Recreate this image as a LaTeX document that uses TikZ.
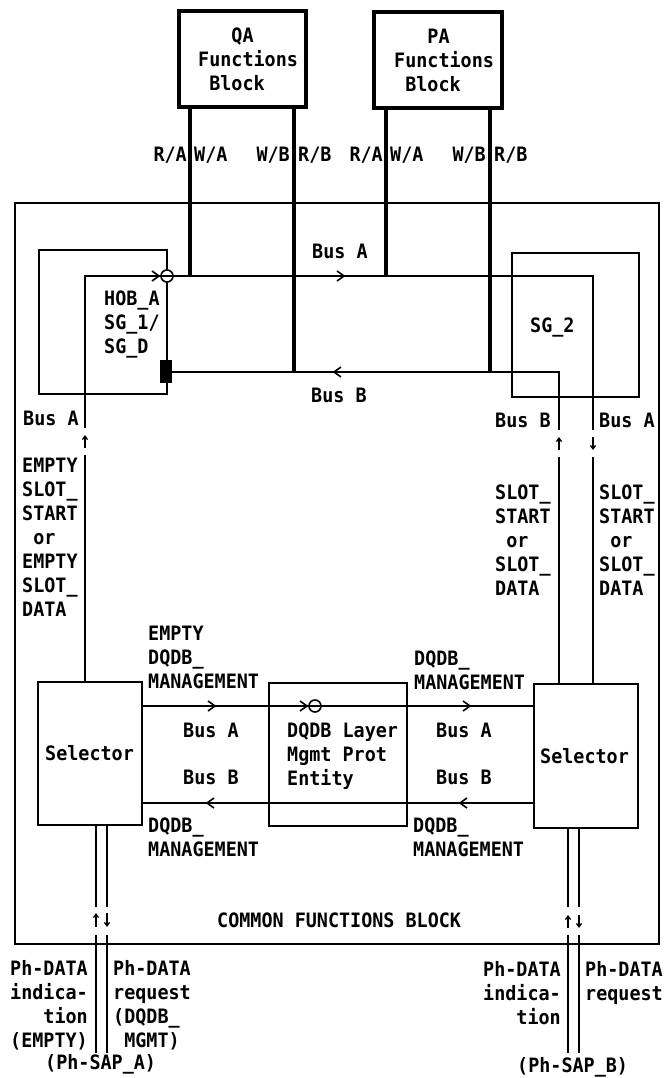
\documentclass[tikz,border=0pt]{standalone}
\usepackage{fontspec}
\newfontfamily\monofont[FakeStretch=0.93]{DejaVu Sans Mono}
\usetikzlibrary{arrows.meta}
\begin{document}
\begin{tikzpicture}[x=1pt,y=-1pt,
  txt/.style={font=\monofont\bfseries\fontsize{19.8}{24}\selectfont, inner sep=0pt},
  btxt/.style={font=\monofont\bfseries\fontsize{19.8}{24}\selectfont, inner sep=0pt},
  fblock/.style={draw, line width=3.2pt, inner sep=0pt},
  frame/.style={draw, line width=2.8pt, inner sep=0pt},
  box/.style={draw, line width=1.5pt, inner sep=0pt},
  bus/.style={line width=1.5pt},
  tbus/.style={line width=4pt},
  chev/.style={line width=1.6pt},
  theta/.style={circle, draw, fill=white, line width=1.6pt, minimum size=12pt, inner sep=0pt},
  varr/.style={line width=1.3pt, -{Straight Barb[length=3.5pt,width=5pt]}},
  chevR/.pic={\draw[chev] (-7,-5) -- (0,0) -- (-7,5);},
  chevL/.pic={\draw[chev] (7,-5) -- (0,0) -- (7,5);},
]
\useasboundingbox (0,0) rectangle (664,1078);

% blocks
\node[fblock, minimum width=127pt, minimum height=96pt] (qa) at (242.5,59) {};
\node[fblock, minimum width=128pt, minimum height=96pt] (pa) at (438,60) {};
\node[frame, minimum width=644pt, minimum height=741pt] (cfb) at (337,573.5) {};
\node[box, minimum width=128pt, minimum height=144pt] (hob) at (103,322) {};
\node[box, minimum width=127pt, minimum height=144pt] (sg2) at (575.5,325) {};
\node[box, minimum width=104pt, minimum height=143pt] (selL) at (90,753.5) {};
\node[box, minimum width=104pt, minimum height=144pt] (selR) at (586,756) {};
\node[box, minimum width=138pt, minimum height=143pt] (lme) at (338,754.5) {};

% coordinates
\coordinate (aLtop) at (85,276);
\coordinate (aRtop) at (593,276);
\coordinate (bRtop) at (559,372);
\coordinate (q1) at (190,276);
\coordinate (q2) at (294,372);
\coordinate (p1) at (386,276);
\coordinate (p2) at (490,372);
\coordinate (mA) at (0,706);
\coordinate (mB) at (0,803);
\coordinate (dL1) at (96,907);
\coordinate (dL2) at (107,907);
\coordinate (dR1) at (568,907);
\coordinate (dR2) at (579,907);

% black block on HOB
\node[fill=black, minimum width=12pt, minimum height=23pt, inner sep=0pt] (blk) at (166,371.5) {};

% upper Bus A
\draw[bus] (selL.north -| aLtop) -- (85,455);
\draw[bus] (85,428) -- (aLtop) -- (161,276);
\draw[bus] (173,276) -- (aRtop) -- (593,430);
\draw[bus] (593,457) -- (selR.north -| aRtop);
% upper Bus B
\draw[bus] (selR.north -| bRtop) -- (559,457);
\draw[bus] (559,430) -- (bRtop) -- (blk.east |- bRtop);

% thick lines
\draw[tbus] (qa.south -| q1) -- (q1);
\draw[tbus] (qa.south -| q2) -- (q2);
\draw[tbus] (pa.south -| p1) -- (p1);
\draw[tbus] (pa.south -| p2) -- (p2);

% theta on HOB
\node[theta] (th1) at (167,276) {};
\draw[line width=1.6pt] (th1.west) -- (th1.east);
\pic at (159,276) {chevR};
\pic at (344,276) {chevR};
\pic at (334,372) {chevL};

% middle buses
\draw[bus] (selL.east |- mA) -- (selR.west |- mA);
\draw[bus] (selR.west |- mB) -- (selL.east |- mB);
\node[theta] (th2) at (315,706) {};
\draw[line width=1.6pt] (th2.west) -- (th2.east);
\pic at (215,706) {chevR};
\pic at (307,706) {chevR};
\pic at (470,706) {chevR};
\pic at (207,803) {chevL};
\pic at (460,803) {chevL};

% bottom lines
\draw[bus] (selL.south -| dL1) -- (dL1);
\draw[bus] (96,935) -- (96,1053);
\draw[bus] (selL.south -| dL2) -- (dL2);
\draw[bus] (107,935) -- (107,1053);
\draw[bus] (selR.south -| dR1) -- (dR1);
\draw[bus] (568,935) -- (568,1053);
\draw[bus] (selR.south -| dR2) -- (dR2);
\draw[bus] (579,935) -- (579,1053);

% small arrows
\draw[varr] (85,448) -- (85,435);
\draw[varr] (559,450) -- (559,437);
\draw[varr] (593,437) -- (593,450);
\draw[varr] (96,927) -- (96,913);
\draw[varr] (107,913) -- (107,927);
\draw[varr] (568,928) -- (568,915);
\draw[varr] (579,915) -- (579,928);

% texts
\node[txt, anchor=north west, align=left] (qat) at (198,28) {\hphantom{xxx}QA\\Functions\\\hphantom{x}Block};
\node[txt, anchor=north west, align=left] (pat) at (394,29) {\hphantom{xxx}PA\\Functions\\\hphantom{x}Block};

\node[btxt, anchor=base east] (ra1) at (187,162) {R/A};
\node[btxt, anchor=base west] (wa1) at (194,162) {W/A};
\node[btxt, anchor=base east] (wb1) at (290,162) {W/B};
\node[btxt, anchor=base west] (rb1) at (298,162) {R/B};
\node[btxt, anchor=base east] (ra2) at (383,162) {R/A};
\node[btxt, anchor=base west] (wa2) at (390,162) {W/A};
\node[btxt, anchor=base east] (wb2) at (486,162) {W/B};
\node[btxt, anchor=base west] (rb2) at (494,162) {R/B};

\node[btxt, anchor=base west] (busA1) at (312,258) {Bus A};
\node[btxt, anchor=base west] (busB1) at (311,402) {Bus B};
\node[btxt, anchor=north west, align=left] (hobt) at (104,291) {HOB\_A\\SG\_1/\\SG\_D};
\node[txt, anchor=base west] (sg2t) at (530,332) {SG\_2};

\node[btxt, anchor=base west] (busAL) at (23,425) {Bus A};
\node[btxt, anchor=base west] (busBR) at (495,427) {Bus B};
\node[btxt, anchor=base west] (busAR) at (599,427) {Bus A};

\node[btxt, anchor=north west, align=left] (emptyL) at (22,458) {EMPTY\\SLOT\_\\START\\\hphantom{o}or\\EMPTY\\SLOT\_\\DATA};
\node[btxt, anchor=north west, align=left] (slotB) at (495,485) {SLOT\_\\START\\\hphantom{o}or\\SLOT\_\\DATA};
\node[btxt, anchor=north west, align=left] (slotA) at (599,485) {SLOT\_\\START\\\hphantom{o}or\\SLOT\_\\DATA};

\node[txt, anchor=north west, align=left] (mgTL) at (148,626) {EMPTY\\DQDB\_\\MANAGEMENT};
\node[txt, anchor=north west, align=left] (mgTR) at (414,651) {DQDB\_\\MANAGEMENT};
\node[txt, anchor=north west, align=left] (mgBL) at (148,818) {DQDB\_\\MANAGEMENT};
\node[txt, anchor=north west, align=left] (mgBR) at (413,818) {DQDB\_\\MANAGEMENT};

\node[txt, anchor=base west] (selLt) at (45,760) {Selector};
\node[txt, anchor=base west] (selRt) at (540,763) {Selector};
\node[txt, anchor=north west, align=left] (lmet) at (287,723) {DQDB Layer\\Mgmt Prot\\Entity};

\node[txt, anchor=base west] (mbA1) at (183,737) {Bus A};
\node[txt, anchor=base west] (mbB1) at (183,784) {Bus B};
\node[txt, anchor=base west] (mbA2) at (436,737) {Bus A};
\node[txt, anchor=base west] (mbB2) at (436,784) {Bus B};

\node[btxt, anchor=base west] (cfbt) at (217,927) {COMMON FUNCTIONS BLOCK};

\node[txt, anchor=north east, align=right] (indL) at (88,960) {Ph-DATA\\indica-\\tion\\(EMPTY)};
\node[txt, anchor=north west, align=left] (reqL) at (113,960) {Ph-DATA\\request\\(DQDB\_\\\hphantom{(}MGMT)};
\node[txt, anchor=base west] (sapA) at (45,1069) {(Ph-SAP\_A)};
\node[txt, anchor=north east, align=right] (indR) at (561,961) {Ph-DATA\\indica-\\tion};
\node[txt, anchor=north west, align=left] (reqR) at (585,961) {Ph-DATA\\request};
\node[txt, anchor=base west] (sapB) at (517,1072) {(Ph-SAP\_B)};
\end{tikzpicture}
\end{document}
